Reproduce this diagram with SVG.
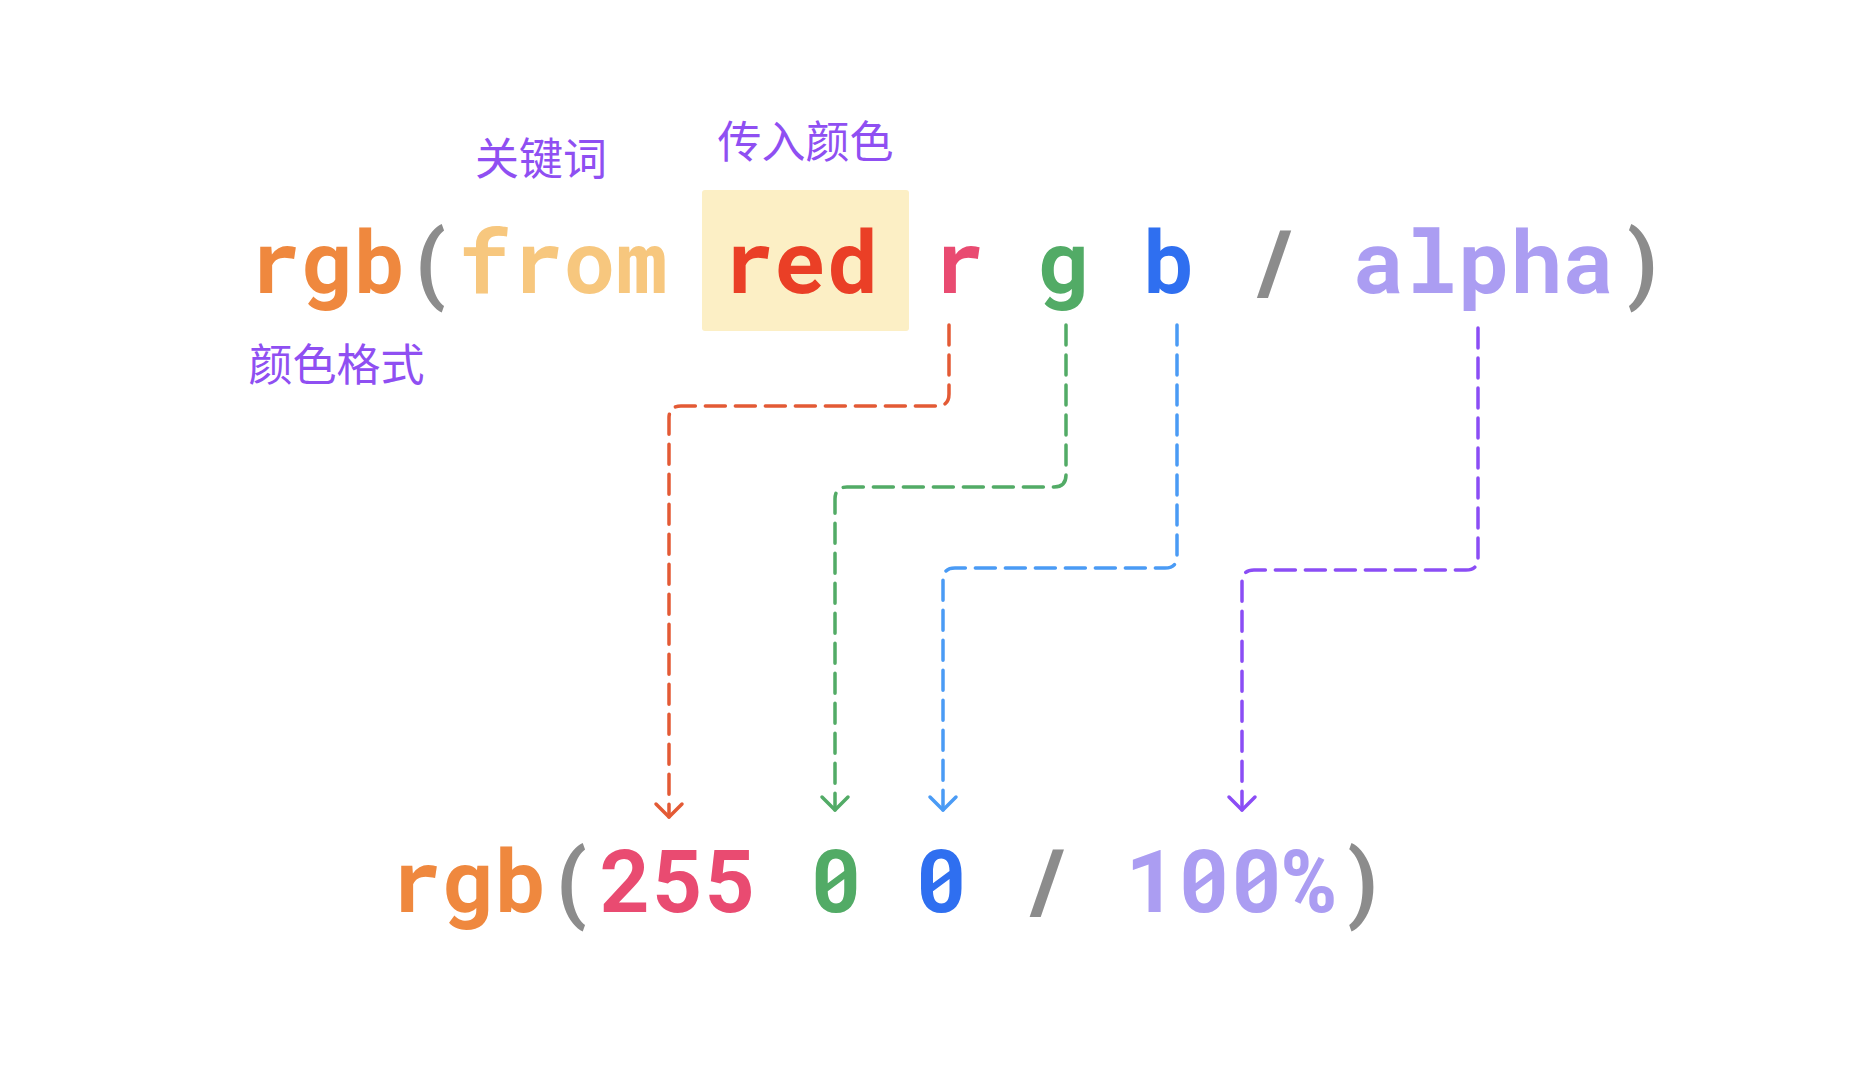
<svg xmlns="http://www.w3.org/2000/svg" width="1872" height="1080" viewBox="0 0 1872 1080">
  <style>
    .code { font-family: "Roboto Mono", "DejaVu Sans Mono", "Liberation Mono", monospace; font-size: 87.4px; font-weight: bold; }
    .lbl { font-family: "Noto Sans CJK SC", "Noto Sans", sans-serif; font-size: 44px; fill: #8F4FF2; text-anchor: middle; }
    .orange { fill: #EF883E; }
    .gray { fill: #8C8C8C; }
    .lorange { fill: #F7C77E; }
    .red { fill: #EA3F26; }
    .pink { fill: #E94B71; }
    .green { fill: #52AB66; }
    .blue { fill: #2F6FF0; }
    .lav { fill: #AB9DF2; }
    .conn { fill: none; stroke-width: 3.5; stroke-dasharray: 20 10; stroke-linecap: round; stroke-linejoin: round; }
  </style>
  <defs>
    <marker id="ar-red" markerUnits="userSpaceOnUse" orient="auto" markerWidth="40" markerHeight="40" refX="0" refY="0" overflow="visible">
      <path d="M-13,-13 L0,0 L-13,13" fill="none" stroke="#E35A35" stroke-width="3.5" stroke-linecap="round" stroke-linejoin="round"/>
    </marker>
    <marker id="ar-green" markerUnits="userSpaceOnUse" orient="auto" markerWidth="40" markerHeight="40" refX="0" refY="0" overflow="visible">
      <path d="M-13,-13 L0,0 L-13,13" fill="none" stroke="#52AB66" stroke-width="3.5" stroke-linecap="round" stroke-linejoin="round"/>
    </marker>
    <marker id="ar-blue" markerUnits="userSpaceOnUse" orient="auto" markerWidth="40" markerHeight="40" refX="0" refY="0" overflow="visible">
      <path d="M-13,-13 L0,0 L-13,13" fill="none" stroke="#4A9BF5" stroke-width="3.5" stroke-linecap="round" stroke-linejoin="round"/>
    </marker>
    <marker id="ar-purple" markerUnits="userSpaceOnUse" orient="auto" markerWidth="40" markerHeight="40" refX="0" refY="0" overflow="visible">
      <path d="M-13,-13 L0,0 L-13,13" fill="none" stroke="#8B4DF5" stroke-width="3.5" stroke-linecap="round" stroke-linejoin="round"/>
    </marker>
  </defs>
  <rect width="1872" height="1080" fill="#FFFFFF"/>

  <g id="source-expression">
    <rect id="red-highlight" x="702" y="190" width="207" height="141" rx="3" fill="#FCEFC5"/>
    <text class="code" y="293">
      <tspan x="248" class="orange">rgb</tspan><tspan x="405.8" class="gray">(</tspan><tspan x="458.4" class="lorange">from</tspan><tspan x="721.4" class="red">red</tspan><tspan x="931.8" class="pink">r</tspan><tspan x="1037" class="green">g</tspan><tspan x="1142.2" class="blue">b</tspan><tspan x="1247.4" class="gray">/</tspan><tspan x="1352.6" class="lav">alpha</tspan><tspan x="1615.6" class="gray">)</tspan>
    </text>
  </g>

  <g id="label-keyword">
    <text class="lbl" x="541" y="175">关键词</text>
  </g>
  <g id="label-input-color">
    <text class="lbl" x="805.5" y="158">传入颜色</text>
  </g>
  <g id="label-color-format">
    <text class="lbl" x="336.5" y="381">颜色格式</text>
  </g>

  <g id="result-expression">
    <text class="code" y="912">
      <tspan x="389" class="orange">rgb</tspan><tspan x="546.8" class="gray">(</tspan><tspan x="599.4" class="pink">255</tspan><tspan x="809.8" class="green">0</tspan><tspan x="915" class="blue">0</tspan><tspan x="1020.2" class="gray">/</tspan><tspan x="1125.4" class="lav">100%</tspan><tspan x="1335.8" class="gray">)</tspan>
    </text>
  </g>

  <g id="connectors">
    <path class="conn" stroke="#E35A35" marker-end="url(#ar-red)" d="M949,325 V394 Q949,406 937,406 H681 Q669,406 669,418 V817"/>
    <path class="conn" stroke="#52AB66" marker-end="url(#ar-green)" d="M1066,325 V475 Q1066,487 1054,487 H847 Q835,487 835,499 V810"/>
    <path class="conn" stroke="#4A9BF5" marker-end="url(#ar-blue)" d="M1177,325 V556 Q1177,568 1165,568 H955 Q943,568 943,580 V810"/>
    <path class="conn" stroke="#8B4DF5" marker-end="url(#ar-purple)" d="M1478,328 V558 Q1478,570 1466,570 H1254 Q1242,570 1242,582 V810"/>
  </g>
</svg>
